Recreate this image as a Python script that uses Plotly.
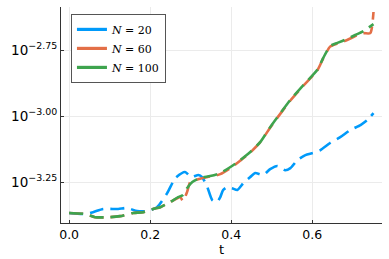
import plotly.graph_objects as go

# N = 20
t20 = [0.0, 0.040, 0.059, 0.084, 0.121, 0.143, 0.168, 0.193, 0.217, 0.242, 0.262, 0.286,
       0.301, 0.319, 0.328, 0.341, 0.353, 0.365, 0.373, 0.380, 0.390, 0.402, 0.415, 0.430,
       0.447, 0.459, 0.479, 0.496, 0.514, 0.533, 0.546, 0.563, 0.583, 0.602, 0.620, 0.644,
       0.669, 0.694, 0.719, 0.736, 0.751]
e20 = [-3.367, -3.371, -3.364, -3.352, -3.352, -3.348, -3.360, -3.360, -3.345, -3.292, -3.235, -3.212,
       -3.231, -3.223, -3.231, -3.269, -3.318, -3.326, -3.307, -3.280, -3.269, -3.273, -3.280, -3.254,
       -3.231, -3.216, -3.223, -3.201, -3.189, -3.205, -3.197, -3.167, -3.148, -3.140, -3.129, -3.102,
       -3.080, -3.053, -3.034, -3.015, -2.989]

# N = 100
t100 = [0.0, 0.040, 0.064, 0.101, 0.126, 0.158, 0.183, 0.207, 0.225, 0.249, 0.269, 0.281,
        0.291, 0.304, 0.323, 0.348, 0.373, 0.398, 0.422, 0.447, 0.472, 0.496, 0.514, 0.546,
        0.578, 0.612, 0.627, 0.644, 0.662, 0.686, 0.706, 0.726, 0.751]
e100 = [-3.367, -3.371, -3.383, -3.383, -3.379, -3.367, -3.364, -3.352, -3.345, -3.326, -3.307, -3.299,
        -3.273, -3.250, -3.235, -3.227, -3.216, -3.193, -3.167, -3.136, -3.098, -3.042, -3.004, -2.939,
        -2.883, -2.826, -2.780, -2.735, -2.723, -2.708, -2.693, -2.678, -2.652]

# N = 60
t60 = [0.0, 0.040, 0.064, 0.101, 0.126, 0.158, 0.183, 0.207, 0.225, 0.249, 0.274, 0.281,
       0.291, 0.299, 0.323, 0.348, 0.373, 0.398, 0.422, 0.447, 0.472, 0.496, 0.514, 0.546,
       0.578, 0.612, 0.627, 0.644, 0.662, 0.686, 0.706, 0.726, 0.743, 0.751]
e60 = [-3.367, -3.371, -3.383, -3.383, -3.379, -3.367, -3.364, -3.352, -3.345, -3.326, -3.307, -3.322,
       -3.288, -3.250, -3.237, -3.229, -3.220, -3.197, -3.169, -3.138, -3.098, -3.044, -3.006, -2.941,
       -2.885, -2.828, -2.782, -2.737, -2.725, -2.712, -2.697, -2.686, -2.686, -2.606]

labels = ["<i>N</i> = 20", "<i>N</i> = 60", "<i>N</i> = 100"]
colors = ["#009AFA", "#E36F47", "#3EA44E"]
ytick_exp = [-3.25, -3.00, -2.75]
ytick_text = ["10<sup>\u22123.25</sup>", "10<sup>\u22123.00</sup>", "10<sup>\u22122.75</sup>"]
xtick_vals = [0.0, 0.2, 0.4, 0.6]
xtick_text = ["0.0", "0.2", "0.4", "0.6"]

series = [(t20, e20), (t60, e60), (t100, e100)]

fig = go.Figure()
for (t, e), lab, c in zip(series, labels, colors):
    fig.add_trace(go.Scatter(x=t, y=[10 ** v for v in e], mode="lines",
                             line=dict(color=c, width=2.6, dash="14px,7px",
                                       shape="spline", smoothing=0.6),
                             showlegend=False, hoverinfo="skip"))
for lab, c in zip(labels, colors):
    fig.add_trace(go.Scatter(x=[None], y=[None], mode="lines", name=lab,
                             line=dict(color=c, width=3.2)))

fig.update_layout(
    width=389, height=259,
    margin=dict(l=61, r=7, t=7, b=36),
    paper_bgcolor="white", plot_bgcolor="white",
    font=dict(family="DejaVu Sans", color="black"),
    legend=dict(x=0.031, y=0.968, xanchor="left", yanchor="top",
                bordercolor="#555555", borderwidth=1, bgcolor="white",
                font=dict(family="DejaVu Serif", size=11),
                tracegroupgap=0, itemwidth=30),
    xaxis=dict(range=[-0.02, 0.772], tickvals=xtick_vals, ticktext=xtick_text,
               showgrid=True, gridcolor="#EBEBEB", gridwidth=1, zeroline=False,
               showline=True, linecolor="#333333", linewidth=1.2,
               ticks="inside", ticklen=3, tickcolor="#333333",
               tickfont=dict(size=12.5), automargin=False,
               title=dict(text="t", font=dict(size=13), standoff=2)),
    yaxis=dict(type="log", range=[-3.405, -2.587],
               tickvals=[10 ** v for v in ytick_exp], ticktext=ytick_text,
               showgrid=True, gridcolor="#EBEBEB", gridwidth=1, zeroline=False,
               showline=True, linecolor="#333333", linewidth=1.2,
               ticks="inside", ticklen=3, tickcolor="#333333",
               tickfont=dict(size=13.5), automargin=False),
)

fig.write_html("out.html", config={"displayModeBar": False},
               post_script="document.body.style.margin='0px';document.body.style.overflow='hidden';")
